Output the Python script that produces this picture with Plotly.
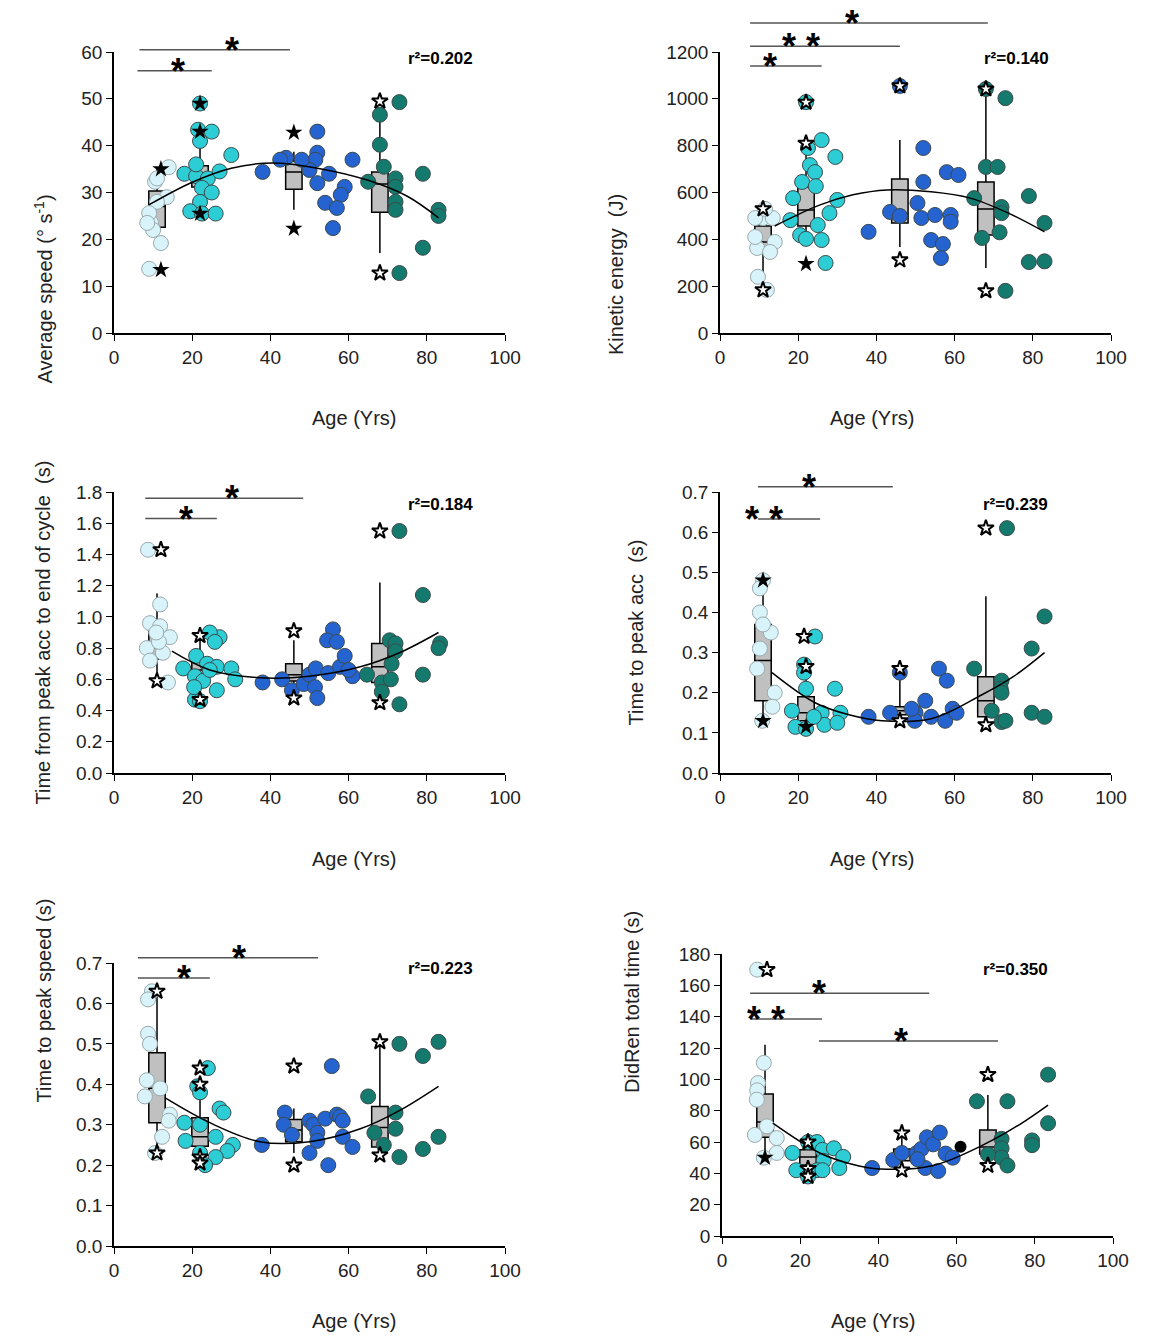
import plotly.graph_objects as go

W, H = 1149, 1337
OFF = 8  # the page body adds an 8px margin around the figure
FONT = "Liberation Sans, Arial, sans-serif"
C_G1, C_G2, C_G3, C_G4 = "#d8f4fa", "#2dcdd6", "#2563d0", "#147a6e"
E_G1, E_DARK = "#9aa9ad", "#3c4a4c"
BOX_FILL = "#c0c0c0"

AGE_TICKS = [0, 20, 40, 60, 80, 100]
BOX_X = [11, 22, 46, 68]

# ---------------- panel 1: average speed ----------------
SPD_G1 = [(9, 13.7), (9.5, 23.5), (12, 19.2), (10, 22), (10.5, 32.3), (14, 35.4), (13.5, 29),
          (11, 28), (9, 25.6), (8.5, 23.5), (11, 33)]
SPD_G2 = [(22, 49), (21.5, 43.4), (25, 43), (22, 41), (30, 38), (18, 34), (21, 33.5), (24, 33),
          (27, 34.5), (22.5, 31), (25, 30), (22, 28), (19.5, 26), (22.5, 25.5), (26, 25.5), (21, 36)]
SPD_G3 = [(38, 34.4), (44, 37.4), (52, 43), (52, 38.5), (51.5, 37), (50, 34.8), (52, 32), (55, 34),
          (59, 31.2), (58, 29.5), (54, 27.8), (57, 26.7), (56, 22.4), (61, 37), (42.5, 37), (48, 37)]
SPD_G4 = [(68, 46.6), (68, 40.2), (69, 35.5), (73, 49.3), (65, 32.3), (72, 33), (72, 31.2), (72, 28),
          (72, 26.3), (79, 34), (79, 18.2), (83, 26.3), (83, 25), (73, 12.8)]
SPD_BOX = [(18.2, 22.6, 27, 30.3, 35.2), (24.8, 31.2, 33.5, 35.7, 43.4),
           (26.3, 30.7, 34.4, 36.7, 38.7), (17.1, 25.8, 31.8, 34.4, 47.2)]
SPD_STAR_FILLED = [(12, 35), (12, 13.5), (22, 49), (22, 43), (22, 25.5), (46, 42.8), (46, 22.3)]
SPD_STAR_OPEN = [(68, 49.5), (68, 12.8)]
SPD_FIT = [(9, 27.4), (20, 32.2), (30, 35.2), (40.6, 36.3), (52, 35.2), (65, 32.6), (75, 29.2), (83, 24.6)]
SPD_BRACKETS = [(6.5, 45, 60.5, "*", 28), (6, 25, 56, "*", 14)]

# ---------------- panel 2: kinetic energy ----------------
KE_G1 = [(9.5, 363), (9.7, 240), (12, 184), (11, 491), (13.5, 491), (9, 491), (14, 389), (12.8, 346),
         (9, 410), (11.5, 530)]
KE_G2 = [(22, 986), (26, 824), (29.5, 752), (23, 717), (24.3, 687), (21, 645), (24.5, 627), (18.7, 576),
         (30, 568), (28, 512), (18, 482), (25, 461), (20.5, 418), (26, 397), (27, 299), (22, 402), (22.5, 790)]
KE_G3 = [(46, 1055), (52, 790), (58, 687), (61, 675), (52, 645), (50.5, 555), (43.5, 517), (46, 500),
         (51.5, 491), (55, 504), (59, 504), (59, 475), (38, 432), (54, 397), (57, 380), (56.5, 320)]
KE_G4 = [(68, 1042), (73, 1003), (68, 709), (71, 709), (65, 576), (72, 538), (72, 512), (79, 585),
         (83, 470), (71.5, 430), (67, 406), (79, 303), (83, 306), (73, 180)]
KE_BOX = [(226, 363, 389, 457, 517), (397, 457, 525, 623, 773),
          (367, 470, 508, 658, 824), (278, 418, 530, 645, 1042)]
KE_STAR_FILLED = [(22, 295)]
KE_STAR_OPEN = [(11, 530), (11, 184), (22, 985), (22, 810), (46, 1055), (46, 312), (68, 1042), (68, 180)]
KE_FIT = [(14, 457), (25.6, 547), (34, 590), (42.7, 611), (54, 603), (64, 576), (74, 510), (83, 432)]
KE_BRACKETS = [(7.7, 68.5, 1324, "*", 36), (7.7, 46, 1225, "* *", 26), (7.7, 26, 1140, "*", 15)]

# ---------------- panel 3: time from peak acc to end of cycle ----------------
TPE_G1 = [(8.7, 1.43), (11.8, 1.08), (9.2, 0.96), (11.8, 0.94), (8.4, 0.80), (14.3, 0.87), (12.5, 0.77),
          (9.2, 0.72), (13.8, 0.58), (11.5, 0.84), (10.8, 0.90)]
TPE_G2 = [(27, 0.87), (24.5, 0.90), (25.8, 0.84), (17.7, 0.67), (21, 0.75), (23.8, 0.70), (26.3, 0.68),
          (30, 0.67), (31, 0.60), (20.7, 0.62), (22.8, 0.59), (26.3, 0.53), (20.7, 0.47), (22, 0.46),
          (20.5, 0.55), (24.5, 0.66)]
TPE_G3 = [(38, 0.58), (43, 0.60), (45.5, 0.53), (48.5, 0.57), (50, 0.63), (51.6, 0.67), (51.4, 0.55),
          (52, 0.48), (54.8, 0.64), (56, 0.92), (54.5, 0.85), (57, 0.84), (57.8, 0.68), (59, 0.75),
          (61, 0.62), (60, 0.66)]
TPE_G4 = [(73, 1.55), (79, 1.14), (79, 0.63), (83.4, 0.83), (83, 0.80), (73, 0.44), (70.5, 0.85),
          (72, 0.83), (72, 0.78), (71, 0.70), (64.7, 0.63), (68.5, 0.58), (68.5, 0.52), (70.8, 0.60)]
TPE_BOX = [(0.60, 0.73, 0.80, 0.92, 1.15), (0.53, 0.60, 0.66, 0.71, 0.89),
           (0.53, 0.59, 0.63, 0.70, 0.85), (0.51, 0.58, 0.68, 0.83, 1.22)]
TPE_STAR_FILLED = []
TPE_STAR_OPEN = [(12, 1.43), (11, 0.59), (22, 0.88), (22, 0.47), (46, 0.91), (46, 0.48), (68, 1.55), (68, 0.45)]
TPE_FIT = [(14.8, 0.78), (24.5, 0.66), (37.3, 0.61), (50, 0.62), (63, 0.68), (73, 0.77), (83, 0.90)]
TPE_BRACKETS = [(8, 48.4, 1.76, "*", 28), (8, 26.3, 1.63, "*", 16)]

# ---------------- panel 4: time to peak acc ----------------
TPA_G1 = [(11, 0.48), (10.2, 0.46), (10.2, 0.40), (10.2, 0.31), (9.5, 0.26), (14, 0.20), (13.4, 0.165),
          (10.8, 0.13), (13, 0.35), (11, 0.37)]
TPA_G2 = [(24.3, 0.34), (21.5, 0.27), (21.5, 0.25), (22, 0.21), (29.4, 0.21), (18.4, 0.155), (26, 0.15),
          (30.8, 0.15), (19.3, 0.115), (22, 0.11), (26.7, 0.12), (30, 0.125), (24, 0.14)]
TPA_G3 = [(38, 0.14), (43.5, 0.15), (46, 0.25), (52.5, 0.18), (56, 0.26), (58, 0.23), (50, 0.15),
          (54, 0.14), (57.6, 0.13), (59.5, 0.16), (60.5, 0.15), (49.8, 0.13), (49, 0.16)]
TPA_G4 = [(73.4, 0.61), (83, 0.39), (79.7, 0.31), (79.7, 0.15), (83, 0.14), (65, 0.26), (72, 0.23),
          (71.8, 0.21), (72, 0.20), (72, 0.127), (73, 0.13), (69.5, 0.155)]
TPA_BOX = [(0.13, 0.18, 0.28, 0.37, 0.48), (0.11, 0.13, 0.15, 0.19, 0.26),
           (0.13, 0.145, 0.155, 0.165, 0.26), (0.125, 0.14, 0.18, 0.24, 0.44)]
TPA_STAR_FILLED = [(11, 0.48), (11, 0.13), (22, 0.115)]
TPA_STAR_OPEN = [(21.5, 0.34), (22, 0.265), (46, 0.26), (46, 0.13), (68, 0.61), (68, 0.12)]
TPA_FIT = [(13.3, 0.25), (24.3, 0.175), (33, 0.145), (41.4, 0.13), (54, 0.135), (67, 0.195), (75, 0.24), (83, 0.30)]
TPA_BRACKETS = [(9.7, 44.2, 0.713, "*", 25), (9.7, 25.6, 0.633, "* *", 16.6)]

# ---------------- panel 5: time to peak speed ----------------
TPS_G1 = [(9.7, 0.63), (8.7, 0.61), (8.7, 0.525), (9.2, 0.50), (8.4, 0.41), (7.9, 0.37), (11.8, 0.39),
          (14.3, 0.325), (14, 0.31), (12.3, 0.27), (10.5, 0.23)]
TPS_G2 = [(24, 0.44), (21.3, 0.395), (22, 0.38), (27, 0.34), (28, 0.33), (18, 0.305), (22, 0.30),
          (26, 0.27), (30.4, 0.25), (29, 0.235), (18.3, 0.26), (22, 0.23), (26, 0.22), (23.3, 0.20)]
TPS_G3 = [(37.8, 0.25), (43.7, 0.33), (43.4, 0.30), (45.5, 0.275), (50, 0.31), (51, 0.30), (52, 0.28),
          (52, 0.26), (50, 0.23), (54, 0.315), (55.7, 0.445), (57, 0.325), (57.8, 0.32), (58.5, 0.31),
          (58.5, 0.27), (61, 0.245), (54.8, 0.20)]
TPS_G4 = [(73, 0.50), (83, 0.505), (79, 0.47), (65, 0.37), (72, 0.33), (72, 0.29), (83, 0.27), (79, 0.24),
          (73, 0.22), (66.6, 0.28), (69, 0.25)]
TPS_BOX = [(0.23, 0.305, 0.39, 0.478, 0.63), (0.218, 0.247, 0.27, 0.317, 0.40),
           (0.23, 0.258, 0.287, 0.313, 0.34), (0.232, 0.245, 0.293, 0.345, 0.505)]
TPS_STAR_FILLED = []
TPS_STAR_OPEN = [(11, 0.63), (11, 0.23), (22, 0.44), (22, 0.40), (22, 0.22), (22, 0.205),
                 (46, 0.445), (46, 0.20), (68, 0.505), (68, 0.225)]
TPS_FIT = [(13, 0.367), (24.5, 0.305), (37.3, 0.258), (50, 0.258), (63, 0.29), (73, 0.335), (83, 0.395)]
TPS_BRACKETS = [(6.1, 52.2, 0.713, "*", 29.7), (6.1, 24.5, 0.663, "*", 15.6)]

# ---------------- panel 6: DidRen total time ----------------
DRT_G1 = [(9, 170), (10.7, 110.5), (9.2, 97.6), (9, 93), (8.9, 87), (8.4, 64.5), (14, 62.5), (14, 53),
          (10.7, 50), (11.5, 70)]
DRT_G2 = [(22, 60), (24.3, 60), (18, 53), (25.7, 55), (28.6, 56), (31, 50.5), (26, 48), (19, 42),
          (24.3, 42), (25.7, 42), (30, 43.4), (22, 38)]
DRT_G3 = [(38.4, 43.4), (43.8, 48.5), (46, 53), (49.8, 53), (51, 55.6), (52.4, 63), (54, 58.5), (55.7, 66),
          (52, 43.4), (55.3, 41.5), (57.2, 52.6), (59, 50), (50, 49)]
DRT_G4 = [(65.2, 86), (73, 86), (83.4, 103), (83.4, 72), (79.3, 61), (79.3, 58), (71.5, 62), (71.5, 56),
          (71.5, 50), (73, 45), (68, 52)]
DRT_BLACK = [(61, 57)]
DRT_BOX = [(50, 63, 72.8, 90.6, 122), (40, 45.3, 50.5, 55, 61),
           (42, 48, 51.7, 55.5, 65.7), (48.5, 52.3, 56.8, 67.6, 90)]
DRT_STAR_FILLED = [(11, 50)]
DRT_STAR_OPEN = [(11.5, 170), (22, 60), (22, 43), (22, 38), (46, 65.7), (46, 42), (68, 103), (68, 45)]
DRT_FIT = [(13, 72), (25, 53), (33, 46), (40.4, 42.8), (54, 45), (67.8, 59.4), (76, 71), (83.4, 83.6)]
DRT_BRACKETS = [(7.2, 53, 155, "*", 27), (7.2, 25.6, 138.5, "* *", 16.6), (24.8, 70.6, 124.5, "*", 48)]

# layout geometry in screen pixels: age-0 x, age-100 x, y0 px, ytop px
PANELS = [
    dict(g=[SPD_G1, SPD_G2, SPD_G3, SPD_G4], box=SPD_BOX, sf=SPD_STAR_FILLED, so=SPD_STAR_OPEN,
         fit=SPD_FIT, br=SPD_BRACKETS, r2="r²=0.202", r2pos=(83.6, 61),
         px=(114, 505, 333, 52), ymax=60, dtick=10, fmt="d", xty=418,
         ytitle="Average speed (° s<sup>-1</sup>)", ytx=28),
    dict(g=[KE_G1, KE_G2, KE_G3, KE_G4], box=KE_BOX, sf=KE_STAR_FILLED, so=KE_STAR_OPEN,
         fit=KE_FIT, br=KE_BRACKETS, r2="r²=0.140", r2pos=(84.6, 1220),
         px=(720, 1111, 333, 52), ymax=1200, dtick=200, fmt="d", xty=418,
         ytitle="Kinetic energy  (J)", ytx=616),
    dict(g=[TPE_G1, TPE_G2, TPE_G3, TPE_G4], box=TPE_BOX, sf=TPE_STAR_FILLED, so=TPE_STAR_OPEN,
         fit=TPE_FIT, br=TPE_BRACKETS, r2="r²=0.184", r2pos=(83.4, 1.72),
         px=(114, 505, 773, 492), ymax=1.8, dtick=0.2, fmt=".1f", xty=859,
         ytitle="Time from peak acc to end of cycle  (s)", ytx=30),
    dict(g=[TPA_G1, TPA_G2, TPA_G3, TPA_G4], box=TPA_BOX, sf=TPA_STAR_FILLED, so=TPA_STAR_OPEN,
         fit=TPA_FIT, br=TPA_BRACKETS, r2="r²=0.239", r2pos=(84.4, 0.67),
         px=(720, 1111, 773, 492), ymax=0.7, dtick=0.1, fmt=".1f", xty=859,
         ytitle="Time to peak acc  (s)", ytx=636),
    dict(g=[TPS_G1, TPS_G2, TPS_G3, TPS_G4], box=TPS_BOX, sf=TPS_STAR_FILLED, so=TPS_STAR_OPEN,
         fit=TPS_FIT, br=TPS_BRACKETS, r2="r²=0.223", r2pos=(83.4, 0.658),
         px=(114, 505, 1246, 963), ymax=0.7, dtick=0.1, fmt=".1f", xty=1321,
         ytitle="Time to peak speed (s)", ytx=30),
    dict(g=[DRT_G1, DRT_G2, DRT_G3, DRT_G4], box=DRT_BOX, sf=DRT_STAR_FILLED, so=DRT_STAR_OPEN,
         fit=DRT_FIT, br=DRT_BRACKETS, r2="r²=0.350", r2pos=(84, 163),
         px=(722, 1113, 1236, 954), ymax=180, dtick=20, fmt="d", xty=1321,
         ytitle="DidRen total time (s)", ytx=632, extra=DRT_BLACK),
]

GROUP_STYLE = [(C_G1, E_G1), (C_G2, E_DARK), (C_G3, E_DARK), (C_G4, E_DARK)]


def px_x(v):
    return (v - OFF) / W


def px_y(v):
    return 1 - (v - OFF) / H


fig = go.Figure()
annotations, shapes, layout_axes = [], [], {}

for i, p in enumerate(PANELS):
    n = i + 1
    xa, ya = f"x{n}", f"y{n}"
    x0p, x1p, y0p, ytp = p["px"]
    dx = [px_x(x0p), px_x(x1p)]
    dy = [px_y(y0p), px_y(ytp)]

    def to_paper(x, y, dx=dx, dy=dy, ymax=p["ymax"]):
        return dx[0] + x / 100 * (dx[1] - dx[0]), dy[0] + y / ymax * (dy[1] - dy[0])

    for pts, (fc, ec) in zip(p["g"], GROUP_STYLE):
        fig.add_trace(go.Scatter(
            x=[a for a, _ in pts], y=[v for _, v in pts], mode="markers", xaxis=xa, yaxis=ya,
            marker=dict(size=15, color=fc, line=dict(color=ec, width=1)), cliponaxis=False,
            showlegend=False, hoverinfo="skip"))
    if p.get("extra"):
        fig.add_trace(go.Scatter(
            x=[a for a, _ in p["extra"]], y=[v for _, v in p["extra"]], mode="markers",
            xaxis=xa, yaxis=ya, marker=dict(size=12, color="black"), showlegend=False))

    fig.add_trace(go.Scatter(
        x=[a for a, _ in p["fit"]], y=[v for _, v in p["fit"]], mode="lines", xaxis=xa, yaxis=ya,
        line=dict(color="black", width=1.5, shape="spline"), showlegend=False, hoverinfo="skip"))

    for bx, (lo, q1, med, q3, hi) in zip(BOX_X, p["box"]):
        fig.add_trace(go.Box(
            x=[bx], lowerfence=[lo], q1=[q1], median=[med], q3=[q3], upperfence=[hi],
            xaxis=xa, yaxis=ya, width=4.2, fillcolor=BOX_FILL, whiskerwidth=0,
            line=dict(color="black", width=1.5), boxpoints=False, showlegend=False))

    if p["sf"]:
        fig.add_trace(go.Scatter(
            x=[a for a, _ in p["sf"]], y=[v for _, v in p["sf"]], mode="markers", xaxis=xa, yaxis=ya,
            marker=dict(symbol="star", size=13, color="black"), cliponaxis=False, showlegend=False))
    fig.add_trace(go.Scatter(
        x=[a for a, _ in p["so"]], y=[v for _, v in p["so"]], mode="markers", xaxis=xa, yaxis=ya,
        marker=dict(symbol="star", size=12, color="white", line=dict(color="black", width=2)),
        cliponaxis=False, showlegend=False))

    for (a0, a1, lv, txt, ax) in p["br"]:
        px0, py = to_paper(a0, lv)
        px1, _ = to_paper(a1, lv)
        shapes.append(dict(type="line", xref="paper", yref="paper", x0=px0, x1=px1, y0=py, y1=py,
                           line=dict(color="#555", width=1.5)))
        tx, _ = to_paper(ax, lv)
        annotations.append(dict(xref="paper", yref="paper", x=tx, y=py, text=f"<b>{txt}</b>",
                                showarrow=False, yanchor="bottom", yshift=-23,
                                font=dict(size=36, color="black", family=FONT)))

    rx, ry = to_paper(*p["r2pos"])
    annotations.append(dict(xref="paper", yref="paper", x=rx, y=ry, text=f"<b>{p['r2']}</b>",
                            showarrow=False, font=dict(size=17, color="black", family=FONT)))
    annotations.append(dict(xref="paper", yref="paper", x=(dx[0] + dx[1]) / 2,
                            y=px_y(p["xty"]), text="Age (Yrs)", showarrow=False, yanchor="middle",
                            font=dict(size=20, color="#222", family=FONT)))
    annotations.append(dict(xref="paper", yref="paper", x=px_x(p["ytx"]), y=(dy[0] + dy[1]) / 2,
                            text=p["ytitle"], textangle=-90, showarrow=False,
                            font=dict(size=20, color="#222", family=FONT)))

    axis_common = dict(showline=True, linecolor="black", linewidth=1.5, ticks="outside", ticklen=6,
                       tickcolor="black", showgrid=False, zeroline=False, automargin=False,
                       tickfont=dict(size=19, color="#222", family=FONT))
    layout_axes["xaxis" if n == 1 else f"xaxis{n}"] = dict(
        domain=dx, range=[0, 100], tickvals=AGE_TICKS, anchor=ya, **axis_common)
    layout_axes["yaxis" if n == 1 else f"yaxis{n}"] = dict(
        domain=dy, range=[0, p["ymax"]], dtick=p["dtick"], tickformat=p["fmt"], anchor=xa, **axis_common)

fig.update_layout(
    width=W, height=H, margin=dict(l=0, r=0, t=0, b=0, pad=0), autosize=False,
    paper_bgcolor="white", plot_bgcolor="white", showlegend=False,
    annotations=annotations, shapes=shapes, **layout_axes,
)
fig.write_html("out.html")
